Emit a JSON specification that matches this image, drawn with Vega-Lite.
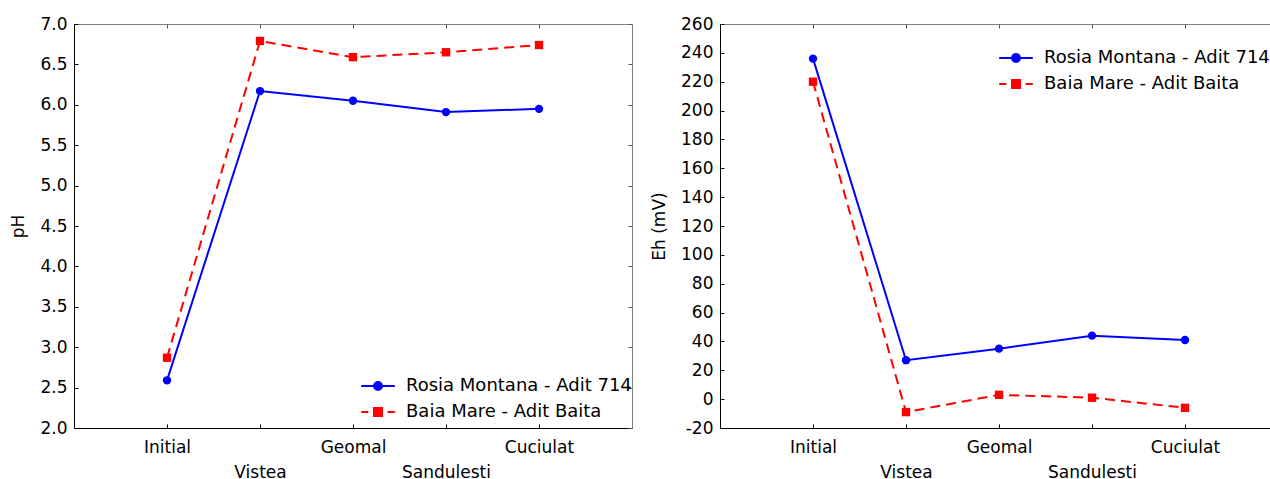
{
  "$schema": "https://vega.github.io/schema/vega-lite/v6.json",
  "padding": {"left": 9, "top": 14, "right": 0, "bottom": 0},
  "background": "#ffffff",
  "config": {
    "font": "DejaVu Sans",
    "view": {"stroke": "#808080", "strokeWidth": 1},
    "axis": {
      "labelFont": "DejaVu Sans", "labelFontSize": 17, "labelColor": "#000000",
      "titleFont": "DejaVu Sans", "titleFontSize": 17, "titleFontWeight": "normal", "titleColor": "#000000",
      "grid": false, "domainColor": "#000000", "tickColor": "#000000", "tickSize": -4, "tickWidth": 1
    },
    "legend": {
      "labelFont": "DejaVu Sans", "labelFontSize": 18, "labelColor": "#000000", "labelLimit": 400,
      "padding": 0, "symbolSize": 256, "labelOffset": 19, "rowPadding": 8,
      "symbolStrokeWidth": 2
    }
  },
  "datasets": {
    "d": [
      {"site": "Initial", "series": "Rosia Montana - Adit 714", "pH": 2.59, "Eh": 236},
      {"site": "Vistea", "series": "Rosia Montana - Adit 714", "pH": 6.17, "Eh": 27},
      {"site": "Geomal", "series": "Rosia Montana - Adit 714", "pH": 6.05, "Eh": 35},
      {"site": "Sandulesti", "series": "Rosia Montana - Adit 714", "pH": 5.91, "Eh": 44},
      {"site": "Cuciulat", "series": "Rosia Montana - Adit 714", "pH": 5.95, "Eh": 41},
      {"site": "Initial", "series": "Baia Mare - Adit Baita", "pH": 2.87, "Eh": 220},
      {"site": "Vistea", "series": "Baia Mare - Adit Baita", "pH": 6.79, "Eh": -9},
      {"site": "Geomal", "series": "Baia Mare - Adit Baita", "pH": 6.59, "Eh": 3},
      {"site": "Sandulesti", "series": "Baia Mare - Adit Baita", "pH": 6.65, "Eh": 1},
      {"site": "Cuciulat", "series": "Baia Mare - Adit Baita", "pH": 6.74, "Eh": -6}
    ]
  },
  "spacing": 17,
  "resolve": {
    "scale": {"shape": "independent", "fill": "independent", "stroke": "independent"}
  },
  "hconcat": [
    {
      "width": 558, "height": 404,
      "data": {"name": "d"},
      "encoding": {
        "x": {"field": "site", "type": "ordinal", "sort": ["Initial", "Vistea", "Geomal", "Sandulesti", "Cuciulat"],
          "scale": {"type": "point", "padding": 1}, "axis": null},
        "y": {"field": "pH", "type": "quantitative", "scale": {"domain": [2, 7], "nice": false, "zero": false}, "axis": null},
        "order": {"value": null}
      },
      "layer": [
        {
          "transform": [{"filter": "datum.series == 'Rosia Montana - Adit 714'"}],
          "mark": {"type": "line", "strokeWidth": 2, "color": "#0000ff"},
          "encoding": {
            "x": {"field": "site", "type": "ordinal", "sort": ["Initial", "Vistea", "Geomal", "Sandulesti", "Cuciulat"],
              "axis": {"title": null, "labelAngle": 0, "labelOverlap": false, "labelPadding": 15, "labelLineHeight": 25,
                "labelExpr": "(datum.value == 'Vistea' || datum.value == 'Sandulesti') ? ['', datum.value] : datum.value"}},
            "y": {"field": "pH", "type": "quantitative",
              "axis": {"title": "pH", "values": [2, 2.5, 3, 3.5, 4, 4.5, 5, 5.5, 6, 6.5, 7], "format": ".1f", "labelPadding": 11, "titlePadding": 12}}
          }
        },
        {
          "transform": [{"filter": "datum.series == 'Baia Mare - Adit Baita'"}],
          "mark": {"type": "line", "strokeWidth": 2, "color": "#ff0000", "strokeDash": [10, 6]}
        },
        {
          "transform": [{"filter": "datum.series == 'Rosia Montana - Adit 714'"}],
          "mark": {"type": "point", "shape": "circle", "filled": true, "opacity": 1, "size": 70, "color": "#0000ff"},
          "encoding": {
            "x": {"field": "site", "type": "ordinal", "sort": ["Initial", "Vistea", "Geomal", "Sandulesti", "Cuciulat"],
              "axis": {"orient": "top", "title": null, "labels": false, "domain": false, "tickColor": "#555555"}},
            "y": {"field": "pH", "type": "quantitative",
              "axis": {"orient": "right", "title": null, "labels": false, "domain": false, "tickColor": "#555555", "values": [2, 2.5, 3, 3.5, 4, 4.5, 5, 5.5, 6, 6.5, 7]}}
          }
        },
        {
          "transform": [{"filter": "datum.series == 'Baia Mare - Adit Baita'"}],
          "mark": {"type": "point", "shape": "square", "filled": true, "opacity": 1, "size": 70, "color": "#ff0000"}
        },
        {
          "transform": [{"filter": "datum.pH < 0"}],
          "mark": {"type": "point", "filled": true, "opacity": 1},
          "encoding": {
            "fill": {"field": "series", "type": "nominal",
              "scale": {"domain": ["Rosia Montana - Adit 714", "Baia Mare - Adit Baita"], "range": ["#0000ff", "#ff0000"]},
              "legend": {"title": null, "orient": "none", "legendX": 295, "legendY": 353}},
            "stroke": {"field": "series", "type": "nominal",
              "scale": {"domain": ["Rosia Montana - Adit 714", "Baia Mare - Adit Baita"], "range": ["#0000ff", "#ff0000"]},
              "legend": {"title": null, "orient": "none", "legendX": 295, "legendY": 353}},
            "shape": {"field": "series", "type": "nominal",
              "scale": {"domain": ["Rosia Montana - Adit 714", "Baia Mare - Adit Baita"],
                "range": ["M-2.1,0H2.1M0.5,0A0.5,0.5,0,1,1,-0.5,0A0.5,0.5,0,1,1,0.5,0Z", "M-2.1,0H-1.2M1.2,0H2.1M-0.5,-0.5H0.5V0.5H-0.5Z"]},
              "legend": {"title": null, "orient": "none", "legendX": 295, "legendY": 353}}
          }
        }
      ],
      "resolve": {"axis": {"x": "independent", "y": "independent"}}
    },
    {
      "width": 558, "height": 404,
      "data": {"name": "d"},
      "encoding": {
        "x": {"field": "site", "type": "ordinal", "sort": ["Initial", "Vistea", "Geomal", "Sandulesti", "Cuciulat"],
          "scale": {"type": "point", "padding": 1}, "axis": null},
        "y": {"field": "Eh", "type": "quantitative", "scale": {"domain": [-20, 260], "nice": false, "zero": false}, "axis": null},
        "order": {"value": null}
      },
      "layer": [
        {
          "transform": [{"filter": "datum.series == 'Rosia Montana - Adit 714'"}],
          "mark": {"type": "line", "strokeWidth": 2, "color": "#0000ff"},
          "encoding": {
            "x": {"field": "site", "type": "ordinal", "sort": ["Initial", "Vistea", "Geomal", "Sandulesti", "Cuciulat"],
              "axis": {"title": null, "labelAngle": 0, "labelOverlap": false, "labelPadding": 15, "labelLineHeight": 25,
                "labelExpr": "(datum.value == 'Vistea' || datum.value == 'Sandulesti') ? ['', datum.value] : datum.value"}},
            "y": {"field": "Eh", "type": "quantitative",
              "axis": {"title": "Eh (mV)", "values": [-20, 0, 20, 40, 60, 80, 100, 120, 140, 160, 180, 200, 220, 240, 260], "labelExpr": "'' + datum.value", "labelPadding": 11, "titlePadding": 12}}
          }
        },
        {
          "transform": [{"filter": "datum.series == 'Baia Mare - Adit Baita'"}],
          "mark": {"type": "line", "strokeWidth": 2, "color": "#ff0000", "strokeDash": [10, 6]}
        },
        {
          "transform": [{"filter": "datum.series == 'Rosia Montana - Adit 714'"}],
          "mark": {"type": "point", "shape": "circle", "filled": true, "opacity": 1, "size": 70, "color": "#0000ff"},
          "encoding": {
            "x": {"field": "site", "type": "ordinal", "sort": ["Initial", "Vistea", "Geomal", "Sandulesti", "Cuciulat"],
              "axis": {"orient": "top", "title": null, "labels": false, "domain": false, "tickColor": "#555555"}},
            "y": {"field": "Eh", "type": "quantitative",
              "axis": {"orient": "right", "title": null, "labels": false, "domain": false, "tickColor": "#555555", "values": [-20, 0, 20, 40, 60, 80, 100, 120, 140, 160, 180, 200, 220, 240, 260]}}
          }
        },
        {
          "transform": [{"filter": "datum.series == 'Baia Mare - Adit Baita'"}],
          "mark": {"type": "point", "shape": "square", "filled": true, "opacity": 1, "size": 70, "color": "#ff0000"}
        },
        {
          "transform": [{"filter": "datum.pH < 0"}],
          "mark": {"type": "point", "filled": true, "opacity": 1},
          "encoding": {
            "fill": {"field": "series", "type": "nominal",
              "scale": {"domain": ["Rosia Montana - Adit 714", "Baia Mare - Adit Baita"], "range": ["#0000ff", "#ff0000"]},
              "legend": {"title": null, "orient": "none", "legendX": 287, "legendY": 25}},
            "stroke": {"field": "series", "type": "nominal",
              "scale": {"domain": ["Rosia Montana - Adit 714", "Baia Mare - Adit Baita"], "range": ["#0000ff", "#ff0000"]},
              "legend": {"title": null, "orient": "none", "legendX": 287, "legendY": 25}},
            "shape": {"field": "series", "type": "nominal",
              "scale": {"domain": ["Rosia Montana - Adit 714", "Baia Mare - Adit Baita"],
                "range": ["M-2.1,0H2.1M0.5,0A0.5,0.5,0,1,1,-0.5,0A0.5,0.5,0,1,1,0.5,0Z", "M-2.1,0H-1.2M1.2,0H2.1M-0.5,-0.5H0.5V0.5H-0.5Z"]},
              "legend": {"title": null, "orient": "none", "legendX": 287, "legendY": 25}}
          }
        }
      ],
      "resolve": {"axis": {"x": "independent", "y": "independent"}}
    }
  ]
}
